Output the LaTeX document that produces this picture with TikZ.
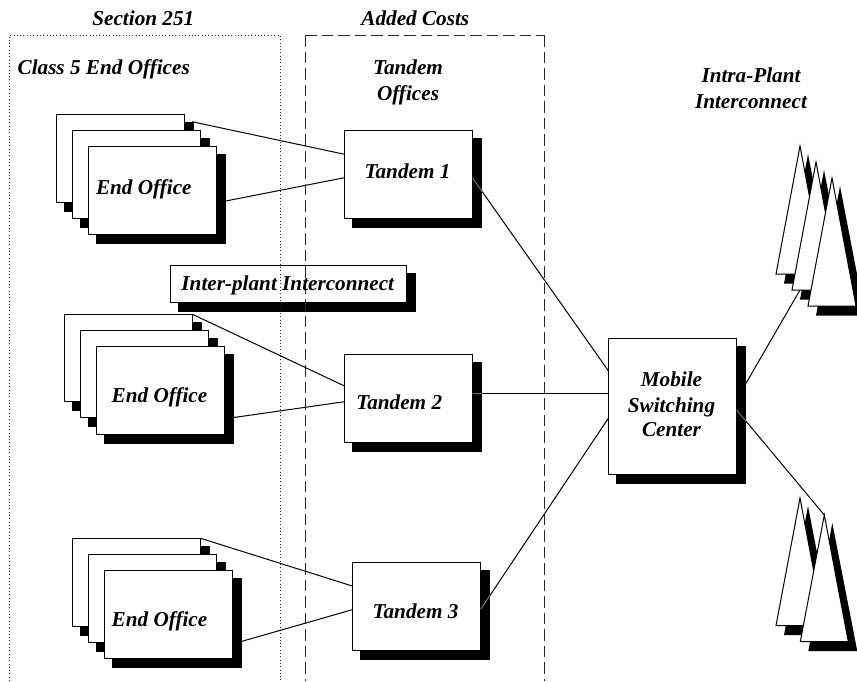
\documentclass[tikz,border=0pt]{standalone}
\usepackage{fontspec}
\setmainfont{Liberation Serif}
\usetikzlibrary{calc}
\tikzset{
  boxnode/.style={draw=black,fill=white,line width=1pt,rectangle,inner sep=0pt,outer sep=0pt,anchor=north west},
  shadowfill/.style={fill=black,draw=none},
  lbl/.style={font=\fontsize{21.2}{26}\selectfont\bfseries\itshape,inner sep=0pt,outer sep=0pt,anchor=base,align=center},
  link/.style={draw=black,line width=1pt},
  linkgray/.style={draw=black!55,line width=1pt},
  tri/.style={draw=black,fill=white,line width=1pt,line join=miter},
  dotframe/.style={draw=black!85,line width=1pt,dash pattern=on 1pt off 2.3pt},
  dashframe/.style={draw=black!85,line width=1pt,dash pattern=on 11.5pt off 5pt}
}
% name, x, y, w, h
\newcommand{\mybox}[5]{%
  \fill[shadowfill] (#2+7.5,#3+7.5) rectangle (#2+#4+9.5,#3+#5+9.5);
  \node[boxnode,minimum width=#4pt,minimum height=#5pt] (#1) at (#2,#3) {};
}
% name, x apex, y apex, half width, height
\newcommand{\mytri}[5]{%
  \fill[shadowfill] (#2+8,#3+8) -- (#2+#4+9,#3+#5+9.5) -- (#2-#4+8,#3+#5+9.5) -- cycle;
  \draw[tri] (#2,#3) -- (#2+#4,#3+#5) -- (#2-#4,#3+#5) -- cycle;
  \coordinate (#1apex) at (#2,#3);
  \coordinate (#1base) at (#2-16,#3+#5);
}
% connector whose first stretch lies over the shadow: from, to, fraction
\newcommand{\shadowlink}[3]{%
  \draw[link] #1 -- #2;
  \draw[linkgray] #1 -- ($#1!#3!#2$);
}
\begin{document}
\begin{tikzpicture}[x=1pt,y=-1pt]
\useasboundingbox (0,0) rectangle (857,681);
% End office stacks
\mybox{sa1}{56.7}{114.7}{128}{87.3}
\mybox{sa2}{72.6}{130.7}{128}{87.3}
\mybox{sa3}{88.5}{146.7}{128}{87.3}
\mybox{sb1}{64.5}{314.3}{128}{87.5}
\mybox{sb2}{80.5}{330.3}{128}{87.5}
\mybox{sb3}{96.5}{346.7}{128}{87.6}
\mybox{sc1}{72.6}{538.3}{128}{88}
\mybox{sc2}{88.6}{554.3}{128}{88}
\mybox{sc3}{104.6}{570.3}{128}{87.7}
% Tandems
\mybox{ta}{344.5}{130.7}{128.3}{87.6}
\mybox{tb}{344.5}{354.7}{128.3}{87.6}
\mybox{tc}{352.3}{562.7}{128.4}{88}
% Inter-plant box
\mybox{ip}{170.7}{265.3}{236}{37.4}
% MSC
\mybox{msc}{608.3}{338.3}{128.4}{136}
% Triangles
\mytri{ua}{800}{146}{24}{128}
\mytri{ub}{816}{162}{24}{128}
\mytri{uc}{832}{178}{24}{128}
\mytri{la}{800}{498}{24}{127.7}
\mytri{lb}{824.3}{515}{24}{126.7}
% Frames
\coordinate (fa1) at (9.5,681);
\coordinate (fa2) at (9.5,35);
\coordinate (fa3) at (280,35);
\coordinate (fa4) at (280,681);
\draw[dotframe] (fa1) -- (fa2) -- (fa3) -- (fa4);
\coordinate (fb1) at (305,681);
\coordinate (fb2) at (305,35);
\coordinate (fb3) at (544,35);
\coordinate (fb4) at (544,681);
\draw[dashframe] (fb2) -- (fb3);
\draw[dashframe] (fb2) -- (fb1);
\draw[dashframe] (fb3) -- (fb4);
% Connectors
\draw[link] ([xshift=7.3pt,yshift=-7pt]sa1.north east) -- ([yshift=20.2pt]ta.west);
\draw[link] ([xshift=9.5pt,yshift=-10.6pt]sa3.east) -- ([yshift=-3.2pt]ta.west);
\draw[link] (sb1.north east) -- ([yshift=12.5pt]tb.west);
\draw[link] ([xshift=7.8pt,yshift=-27.2pt]sb3.east) -- ([yshift=-3.2pt]tb.west);
\draw[link] (sc1.north east) -- ([yshift=20.7pt]tc.west);
\draw[link] ([xshift=8.1pt,yshift=-27.5pt]sc3.east) -- ([yshift=-3pt]tc.west);
\shadowlink{([yshift=-3.8pt]ta.east)}{([yshift=35.6pt]msc.west)}{0.07}
\shadowlink{([yshift=4.8pt]tb.east)}{([yshift=12.6pt]msc.west)}{0.07}
\shadowlink{([yshift=-2.6pt]tc.east)}{([yshift=-12pt]msc.west)}{0.075}
\draw[link] ([xshift=8.3pt,yshift=21.3pt]msc.east) -- (ubbase);
\shadowlink{([yshift=-3.7pt]msc.east)}{(lbapex)}{0.108}
% Labels
\node[lbl] (l1) at (143.3,25.7) {Section 251};
\node[lbl] (l2) at (415.3,25.7) {Added Costs};
\node[lbl] (l3) at (103.7,74) {Class 5 End Offices};
\node[lbl] (l4) at (408,74) {Tandem};
\node[lbl] (l5) at (408,100) {Offices};
\node[lbl] (l6) at (751,82) {Intra-Plant};
\node[lbl] (l7) at (751,108) {Interconnect};
\node[lbl] (l8) at (143.8,194.7) {End Office};
\node[lbl] (l9) at (159.5,402) {End Office};
\node[lbl] (l10) at (159.5,626) {End Office};
\node[lbl] (l11) at (407.5,178.3) {Tandem 1};
\node[lbl] (l12) at (399.2,409.3) {Tandem 2};
\node[lbl] (l13) at (415.5,618) {Tandem 3};
\node[lbl] (l14) at (287.8,290.7) {Inter-plant Interconnect};
\node[lbl] (l15) at (671.5,386) {Mobile};
\node[lbl] (l16) at (671.5,412) {Switching};
\node[lbl] (l17) at (671.5,436.7) {Center};
\end{tikzpicture}
\end{document}
